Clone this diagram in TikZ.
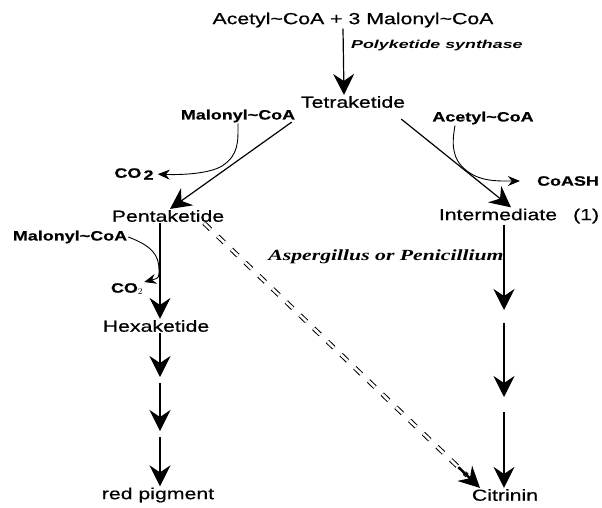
\documentclass[tikz,border=0pt]{standalone}
\usepackage{fontspec}
\setmainfont{Liberation Sans}[FakeStretch=1.33,FakeBold=0.6]
\newfontfamily\widesans{Liberation Sans}[FakeStretch=1.55]
\newfontfamily\latinname{Liberation Serif}[FakeStretch=1.4]
\usetikzlibrary{arrows.meta,calc}
\tikzset{
  main/.style={font=\fontsize{16}{18}\selectfont, inner sep=1pt},
  side/.style={font=\fontsize{13.5}{15}\selectfont\bfseries, inner sep=1pt},
  arr/.style={draw, line width=1.2pt, -{Stealth[length=21pt,width=21pt,inset=7pt]}},
  sidearr/.style={draw, line width=0.9pt, -{Stealth[length=12pt,width=10pt,inset=4pt]}},
  dbl/.style={draw, double, double distance=2.6pt, line width=1pt, dash pattern=on 9pt off 10pt}
}
\begin{document}
\begin{tikzpicture}[x=1pt,y=-1pt]
        \useasboundingbox (0,0) rectangle (602,507);
        \node[main] (start) at (353,20) {Acetyl\textasciitilde CoA + 3 Malonyl\textasciitilde CoA};
        \node[anchor=west, inner sep=1pt, font=\fontsize{11.5}{13}\selectfont\widesans\bfseries\itshape] (pks) at (350,46) {Polyketide synthase};
        \node[main] (tetra) at (353,102) {Tetraketide};
        \node[side] (malA) at (238,116) {Malonyl\textasciitilde CoA};
        \node[side] (acA) at (483,118) {Acetyl\textasciitilde CoA};
        \node[side] (co2A) at (134,174) {CO\,\raisebox{-2pt}{2}};
        \node[main] (penta) at (168,216) {Pentaketide};
        \node[side] (coash) at (568,181) {CoASH};
        \node[main] (inter) at (519,216) {Intermediate\quad(1)};
        \node[font=\fontsize{15.5}{17}\selectfont\latinname\bfseries\itshape] (asp) at (386,257) {Aspergillus or Penicillium};
        \node[side] (malB) at (70,237) {Malonyl\textasciitilde CoA};
        \node[side] (co2B) at (127,289) {CO$_2$};
        \node[main] (hexa) at (156,326) {Hexaketide};
        \node[main] (red) at (158,495) {red pigment};
        \node[main] (citr) at (505,495) {Citrinin};

        % breaks in the two long columns
        \coordinate (l1) at (160,380);
        \coordinate (l2) at (160,433);
        \coordinate (r1) at (504,316);
        \coordinate (r2) at (504,405);
        \coordinate (joinA) at (222,166);
        \coordinate (joinR) at (467,171);
        \coordinate (joinB) at (159,270);

        \draw[arr] ([xshift=-10pt]start.south) -- ([xshift=-9pt]tetra.north);
        \draw[arr] ([xshift=-8pt,yshift=-13pt]tetra.south west) -- ([xshift=2pt]penta.north);
        \draw[arr] ([xshift=-5pt,yshift=-10pt]tetra.south east) -- ([xshift=-8pt]inter.north);

        \draw[sidearr, shorten >=3pt] ([xshift=0pt]malA.south) .. controls +(0,18) and (239,155) .. (joinA) .. controls (209,174) and (180,175) .. (co2A.east);
        \draw[sidearr, shorten >=16pt] ([xshift=-28pt]acA.south) .. controls +(-3,17) and (451,159) .. (joinR) .. controls (481,182) and (500,181) .. (coash.west);
        \draw[sidearr] (malB.east) .. controls (152,246) and (159,255) .. (joinB) .. controls (159,278) .. (co2B.north east);

        \draw[arr] (penta.south -| l1) -- (hexa.north -| l1);
        \draw[arr, shorten >=3pt] (hexa.south -| l1) -- (l1);
        \draw[arr, shorten <=3pt, shorten >=2pt] (l1) -- (l2);
        \draw[arr, shorten <=4pt] (l2) -- (red.north -| l2);

        \draw[arr, shorten >=6pt] (inter.south -| r1) -- (r1);
        \draw[arr, shorten <=7pt, shorten >=8pt] (r1) -- (r2);
        \draw[arr, shorten <=7pt] (r2) -- (citr.north -| r2);

        \draw[dbl, shorten >=18pt] ([xshift=36pt]penta.south) -- ([xshift=-25pt]citr.north);
        \draw[arr, line width=2.5pt] ($([xshift=-25pt]citr.north)!30pt!([xshift=36pt]penta.south)$) -- ([xshift=-25pt]citr.north);
      \end{tikzpicture}
\end{document}
